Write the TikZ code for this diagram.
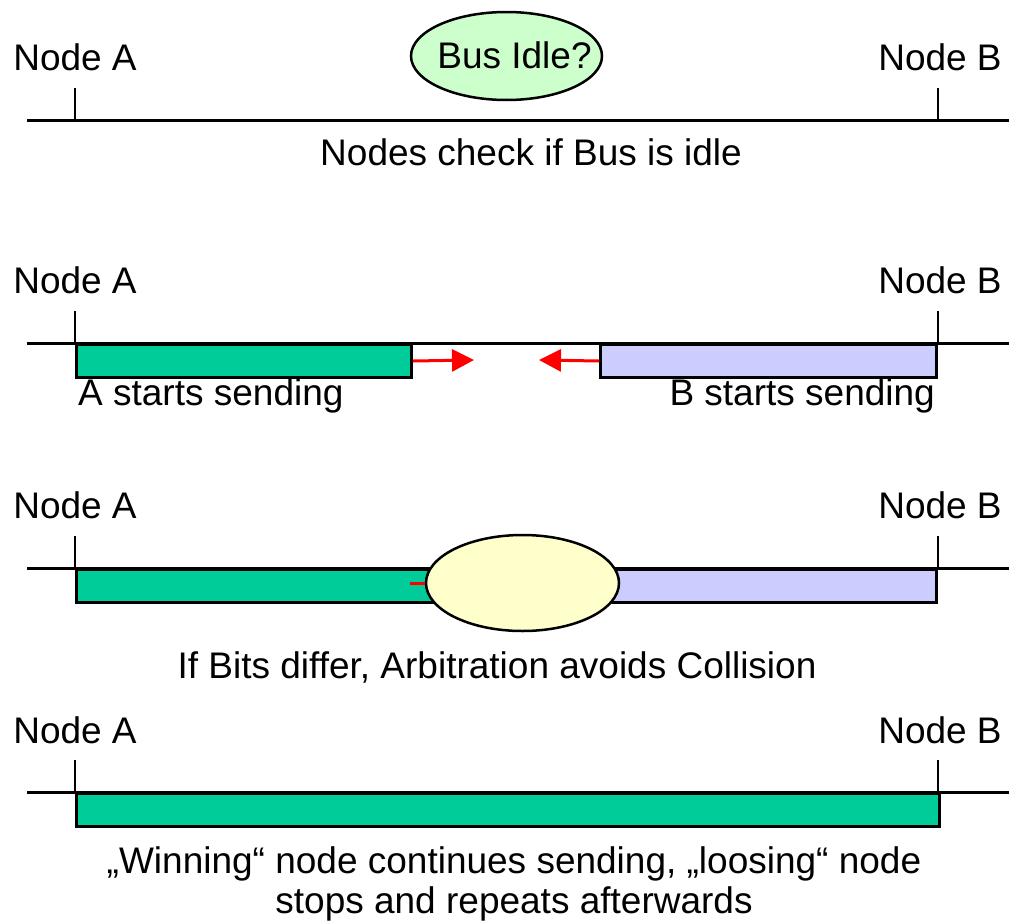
\documentclass[tikz,border=0pt]{standalone}
\usepackage{fontspec}
\setmainfont{Liberation Sans}
\usetikzlibrary{arrows.meta,shapes.geometric}
\definecolor{sendA}{HTML}{00CC99}
\definecolor{sendB}{HTML}{CCCCFF}
\definecolor{idleFill}{HTML}{CCFFCC}
\definecolor{collFill}{HTML}{FFFFCC}

\begin{document}
\begin{tikzpicture}[x=1pt,y=-1pt,
  lbl/.style={font=\fontsize{37}{40}\selectfont, inner sep=0pt},
  bus/.style={line width=3pt},
  tick/.style={line width=2pt},
  frame/.style={draw, line width=3pt, inner sep=0pt, minimum height=33pt},
  bubble/.style={ellipse, draw, line width=2.5pt, inner sep=0pt},
  sig/.style={red, line width=3pt, -{Triangle[length=22pt,width=22pt]}}
]
\useasboundingbox (0,0) rectangle (1009,921);

% four stages: node labels, bus line and the two node taps
\foreach \i/\L/\B in {1/70/120, 2/293/343, 3/518/568, 4/743/792}{
  \node[lbl, anchor=base] (nA\i) at (75,\L) {Node A};
  \node[lbl, anchor=base] (nB\i) at (940,\L) {Node B};
  \coordinate (bl\i) at (27,\B);
  \coordinate (br\i) at (1009,\B);
  \coordinate (tA\i) at (75,\B);
  \coordinate (tB\i) at (938,\B);
}

% stage 1: idle check
\draw[bus] (bl1) -- (br1);
\draw[tick] (tA1) -- ++(0,-32);
\draw[tick] (tB1) -- ++(0,-32);
\node[bubble, fill=idleFill, minimum width=191pt, minimum height=88pt] (idle) at (506.5,56) {};
\node[lbl, anchor=base] (idleText) at (514.5,68) {Bus Idle?};
\node[lbl, anchor=base] (cap1) at (531,165) {Nodes check if Bus is idle};

% stage 2: both nodes start sending
\draw[bus] (bl2) -- (br2);
\draw[tick] (tA2) -- ++(0,-32);
\draw[tick] (tB2) -- ++(0,-32);
\node[frame, fill=sendA, minimum width=335pt, anchor=north west] (sA2) at (tA2) {};
\node[frame, fill=sendB, minimum width=336pt, anchor=north east] (sB2) at (tB2) {};
\coordinate (hA2) at (474,360);
\coordinate (hB2) at (539,360);
\draw[sig] (sA2.east) -- (hA2);
\draw[sig] (sB2.west) -- (hB2);
\node[lbl, anchor=base west] (capA2) at (78,405) {A starts sending};
\node[lbl, anchor=base east] (capB2) at (935,405) {B starts sending};

% stage 3: arbitration
\draw[bus] (bl3) -- (br3);
\draw[tick] (tA3) -- ++(0,-32);
\draw[tick] (tB3) -- ++(0,-32);
\node[frame, fill=sendA, minimum width=395pt, anchor=north west] (sA3) at (tA3) {};
\node[frame, fill=sendB, minimum width=363pt, anchor=north east] (sB3) at (tB3) {};
\node[bubble, fill=collFill, minimum width=193pt, minimum height=96pt] (coll) at (522.5,583) {};
\coordinate (rA3) at (410,583);
\draw[red, line width=3pt] (rA3) -- (coll.west);
\node[lbl, anchor=base] (cap3) at (497,678) {If Bits differ, Arbitration avoids Collision};

% stage 4: winner continues
\draw[bus] (bl4) -- (br4);
\draw[tick] (tA4) -- ++(0,-32);
\draw[tick] (tB4) -- ++(0,-32);
\node[frame, fill=sendA, minimum width=863pt, anchor=north west] (sA4) at (tA4) {};
\node[lbl, anchor=base, align=center] (cap4) at (514,913) {„Winning“ node continues sending, „loosing“ node\\stops and repeats afterwards};
\end{tikzpicture}
\end{document}
